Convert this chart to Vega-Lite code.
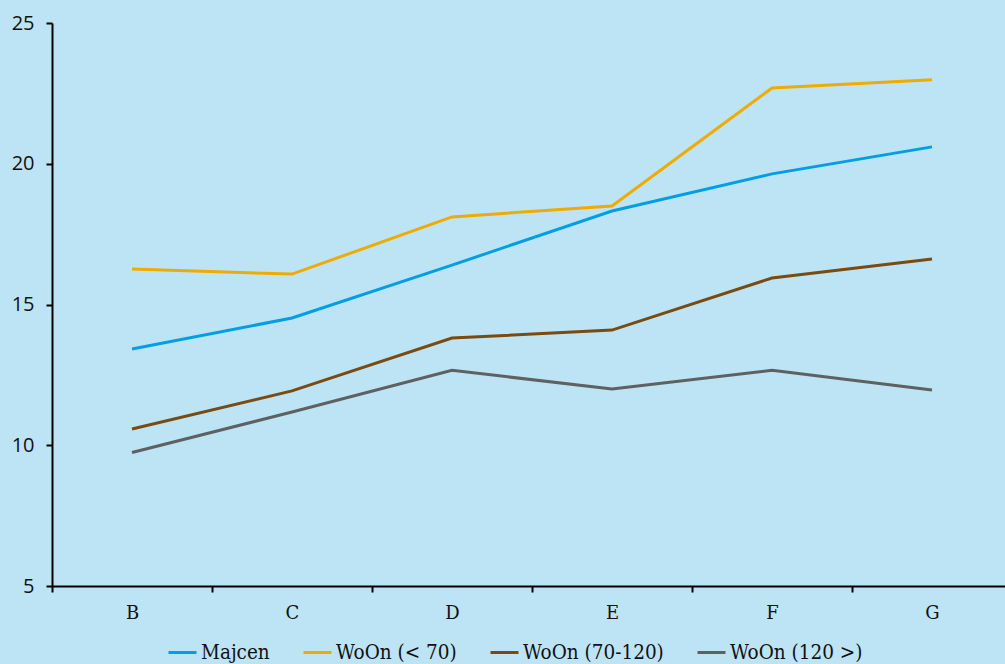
{
  "$schema": "https://vega.github.io/schema/vega-lite/v6.json",
  "width": 953,
  "height": 563,
  "autosize": "none",
  "padding": {"left": 52, "top": 23, "right": 0, "bottom": 78},
  "background": "#BCE4F5",
  "data": {
    "values": [
      {"cat": "B", "series": "Majcen", "value": 13.42},
      {"cat": "C", "series": "Majcen", "value": 14.52},
      {"cat": "D", "series": "Majcen", "value": 16.40},
      {"cat": "E", "series": "Majcen", "value": 18.32},
      {"cat": "F", "series": "Majcen", "value": 19.64},
      {"cat": "G", "series": "Majcen", "value": 20.60},
      {"cat": "B", "series": "WoOn (< 70)", "value": 16.26},
      {"cat": "C", "series": "WoOn (< 70)", "value": 16.08},
      {"cat": "D", "series": "WoOn (< 70)", "value": 18.11},
      {"cat": "E", "series": "WoOn (< 70)", "value": 18.50},
      {"cat": "F", "series": "WoOn (< 70)", "value": 22.69},
      {"cat": "G", "series": "WoOn (< 70)", "value": 22.98},
      {"cat": "B", "series": "WoOn (70-120)", "value": 10.58},
      {"cat": "C", "series": "WoOn (70-120)", "value": 11.93},
      {"cat": "D", "series": "WoOn (70-120)", "value": 13.81},
      {"cat": "E", "series": "WoOn (70-120)", "value": 14.09},
      {"cat": "F", "series": "WoOn (70-120)", "value": 15.94},
      {"cat": "G", "series": "WoOn (70-120)", "value": 16.62},
      {"cat": "B", "series": "WoOn (120 >)", "value": 9.74},
      {"cat": "C", "series": "WoOn (120 >)", "value": 11.18},
      {"cat": "D", "series": "WoOn (120 >)", "value": 12.66},
      {"cat": "E", "series": "WoOn (120 >)", "value": 12.00},
      {"cat": "F", "series": "WoOn (120 >)", "value": 12.66},
      {"cat": "G", "series": "WoOn (120 >)", "value": 11.96}
    ]
  },
  "mark": {"type": "line", "strokeWidth": 3},
  "encoding": {
    "x": {
      "field": "cat",
      "type": "nominal",
      "scale": {"type": "band", "paddingInner": 0, "paddingOuter": 0, "range": [0, 960]},
      "axis": {
        "title": null,
        "labelAngle": 0,
        "tickBand": "extent",
        "domainColor": "#000000",
        "domainWidth": 2,
        "tickColor": "#000000",
        "tickWidth": 2,
        "tickSize": 6,
        "labelFont": "DejaVu Serif",
        "labelFontSize": 18,
        "labelColor": "#111111",
        "labelPadding": 12,
        "grid": false
      }
    },
    "y": {
      "field": "value",
      "type": "quantitative",
      "scale": {"domain": [5, 25], "nice": false, "zero": false},
      "axis": {
        "title": null,
        "values": [5, 10, 15, 20, 25],
        "grid": false,
        "domainColor": "#000000",
        "domainWidth": 2,
        "tickColor": "#000000",
        "tickWidth": 2,
        "tickSize": 6,
        "labelFont": "Open Sans",
        "labelFontSize": 20,
        "labelColor": "#111111",
        "labelPadding": 12
      }
    },
    "color": {
      "field": "series",
      "type": "nominal",
      "sort": ["Majcen", "WoOn (< 70)", "WoOn (70-120)", "WoOn (120 >)"],
      "scale": {
        "domain": ["Majcen", "WoOn (< 70)", "WoOn (70-120)", "WoOn (120 >)"],
        "range": ["#009FE3", "#F0AB00", "#7A4A10", "#5F6062"]
      },
      "legend": {
        "title": null,
        "orient": "none",
        "direction": "horizontal",
        "legendX": 115,
        "legendY": 614,
        "symbolType": "stroke",
        "symbolSize": 784,
        "symbolStrokeWidth": 3,
        "labelFont": "DejaVu Serif Condensed, DejaVu Serif",
        "labelFontSize": 20.5,
        "labelColor": "#111111",
        "labelOffset": 3,
        "columnPadding": 27
      }
    }
  },
  "config": {"view": {"stroke": null}}
}
